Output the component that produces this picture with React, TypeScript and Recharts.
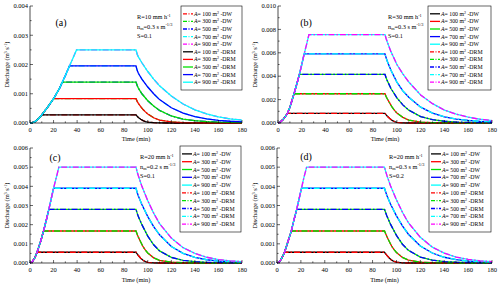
import { LineChart, Line, XAxis, YAxis } from "recharts";

type Pt = [number, number];

const FONT = "'Liberation Serif', 'Times New Roman', serif";
const DASH = "6 2 1.5 2";

const AREAS = [100, 300, 500, 700, 900];
const X_TICKS = [0, 10, 20, 30, 40, 50, 60, 70, 80, 90, 100, 110, 120, 130, 140, 150, 160, 170, 180];

// discharge values are in 10^-3 m3/s, tick labels are formatted back to m3/s
const Y_TICKS_A = [0, 0.5, 1, 1.5, 2, 2.5, 3, 3.5, 4];
const Y_TICKS_B = [0, 1, 2, 3, 4, 5, 6, 7, 8, 9, 10];
const Y_TICKS_CD = [0, 0.5, 1, 1.5, 2, 2.5, 3, 3.5, 4, 4.5, 5, 5.5, 6];

// solid / dash-dot colour orders (100..900 m2)
const SOLID = ["#000000", "#ff0000", "#00e000", "#0000ff", "#00ffff"];
const DASHED = ["#ff0000", "#00e000", "#0000ff", "#00ffff", "#ff00ff"];

// (a) R=10 mm/h, n=0.3, S=0.1
const a100: Pt[] = [[0, 0], [2, 0.01], [4, 0.04], [6, 0.1], [8, 0.18], [10, 0.28], [90, 0.28], [91, 0.23], [92, 0.19], [94, 0.13], [96, 0.08], [98, 0.05], [100, 0.03], [105, 0.01], [110, 0.003], [120, 0], [180, 0]];
const a300: Pt[] = [[0, 0], [2, 0.01], [4, 0.04], [6, 0.1], [8, 0.18], [10, 0.28], [15, 0.54], [20, 0.83], [90, 0.83], [91, 0.74], [92, 0.67], [94, 0.56], [96, 0.46], [98, 0.38], [100, 0.31], [105, 0.18], [110, 0.1], [120, 0.04], [130, 0.015], [140, 0.005], [150, 0], [180, 0]];
const a500: Pt[] = [[0, 0], [2, 0.01], [4, 0.04], [6, 0.1], [8, 0.18], [10, 0.28], [15, 0.54], [20, 0.83], [25, 1.18], [27.5, 1.4], [90, 1.4], [91, 1.28], [92, 1.19], [95, 1.0], [100, 0.76], [105, 0.58], [110, 0.43], [120, 0.24], [130, 0.13], [140, 0.08], [150, 0.05], [160, 0.03], [170, 0.02], [180, 0.01]];
const a700: Pt[] = [[0, 0], [2, 0.01], [4, 0.04], [6, 0.1], [8, 0.18], [10, 0.28], [15, 0.54], [20, 0.83], [25, 1.18], [27.5, 1.4], [30, 1.62], [33.5, 1.95], [90, 1.95], [91, 1.8], [92, 1.7], [95, 1.5], [100, 1.23], [105, 1.0], [110, 0.8], [120, 0.52], [130, 0.34], [140, 0.22], [150, 0.14], [160, 0.09], [170, 0.06], [180, 0.04]];
const a900: Pt[] = [[0, 0], [2, 0.01], [4, 0.04], [6, 0.1], [8, 0.18], [10, 0.28], [15, 0.54], [20, 0.83], [25, 1.18], [27.5, 1.4], [30, 1.62], [33.5, 1.95], [36, 2.17], [39.5, 2.5], [90, 2.5], [91, 2.35], [92, 2.26], [95, 2.06], [100, 1.76], [105, 1.5], [110, 1.27], [120, 0.92], [130, 0.65], [140, 0.45], [150, 0.31], [160, 0.21], [170, 0.14], [180, 0.1]];

// (b) R=30 mm/h, n=0.3, S=0.1
const b100: Pt[] = [[0, 0], [2, 0.08], [4, 0.27], [6, 0.52], [8, 0.83], [90, 0.83], [91, 0.7], [92, 0.58], [94, 0.38], [96, 0.22], [98, 0.12], [100, 0.06], [105, 0.015], [110, 0], [180, 0]];
const b300: Pt[] = [[0, 0], [2, 0.08], [4, 0.27], [6, 0.52], [8, 0.83], [10, 1.35], [13.5, 2.5], [90, 2.5], [91, 2.25], [92, 2.05], [94, 1.7], [96, 1.35], [98, 1.08], [100, 0.85], [105, 0.48], [110, 0.25], [120, 0.08], [130, 0.03], [140, 0.01], [150, 0], [180, 0]];
const b500: Pt[] = [[0, 0], [2, 0.08], [4, 0.27], [6, 0.52], [8, 0.83], [10, 1.35], [13.5, 2.5], [16, 3.4], [18, 4.15], [90, 4.15], [91, 3.85], [92, 3.6], [95, 2.95], [100, 2.15], [105, 1.55], [110, 1.1], [120, 0.55], [130, 0.28], [140, 0.15], [150, 0.08], [160, 0.05], [170, 0.03], [180, 0.02]];
const b700: Pt[] = [[0, 0], [2, 0.08], [4, 0.27], [6, 0.52], [8, 0.83], [10, 1.35], [13.5, 2.5], [16, 3.4], [18, 4.15], [20, 5.0], [22, 5.9], [90, 5.9], [91, 5.55], [92, 5.25], [95, 4.5], [100, 3.5], [105, 2.75], [110, 2.2], [120, 1.35], [130, 0.85], [140, 0.53], [150, 0.34], [160, 0.22], [170, 0.14], [180, 0.09]];
const b900: Pt[] = [[0, 0], [2, 0.08], [4, 0.27], [6, 0.52], [8, 0.83], [10, 1.35], [13.5, 2.5], [16, 3.4], [18, 4.15], [20, 5.0], [22, 5.9], [24, 6.7], [26, 7.55], [90, 7.55], [91, 7.2], [92, 6.9], [95, 6.1], [100, 5.0], [105, 4.2], [110, 3.5], [120, 2.4], [130, 1.65], [140, 1.1], [150, 0.75], [160, 0.5], [170, 0.32], [180, 0.21]];

// (c) R=20 mm/h, n=0.2, S=0.1
const c100: Pt[] = [[0, 0], [2, 0.07], [4, 0.26], [6, 0.56], [90, 0.56], [91, 0.47], [92, 0.39], [94, 0.25], [96, 0.14], [98, 0.07], [100, 0.035], [105, 0.008], [110, 0], [180, 0]];
const c300: Pt[] = [[0, 0], [2, 0.07], [4, 0.26], [6, 0.56], [9, 1.12], [11.5, 1.67], [90, 1.67], [91, 1.5], [92, 1.35], [94, 1.1], [96, 0.85], [98, 0.67], [100, 0.52], [105, 0.27], [110, 0.14], [120, 0.04], [130, 0.012], [140, 0], [180, 0]];
const c500: Pt[] = [[0, 0], [2, 0.07], [4, 0.26], [6, 0.56], [9, 1.12], [11.5, 1.67], [14, 2.28], [16, 2.8], [90, 2.8], [91, 2.6], [92, 2.42], [95, 2.0], [100, 1.4], [105, 0.95], [110, 0.63], [120, 0.29], [130, 0.14], [140, 0.07], [150, 0.035], [160, 0.02], [170, 0.01], [180, 0.005]];
const c700: Pt[] = [[0, 0], [2, 0.07], [4, 0.26], [6, 0.56], [9, 1.12], [11.5, 1.67], [14, 2.28], [16, 2.8], [18, 3.35], [20, 3.9], [90, 3.9], [91, 3.68], [92, 3.5], [95, 3.05], [100, 2.42], [105, 1.9], [110, 1.47], [120, 0.86], [130, 0.5], [140, 0.29], [150, 0.17], [160, 0.1], [170, 0.06], [180, 0.035]];
const c900: Pt[] = [[0, 0], [2, 0.07], [4, 0.26], [6, 0.56], [9, 1.12], [11.5, 1.67], [14, 2.28], [16, 2.8], [18, 3.35], [20, 3.9], [22.5, 4.5], [24.5, 5.0], [90, 5.0], [91, 4.75], [92, 4.55], [95, 4.0], [100, 3.25], [105, 2.6], [110, 2.05], [120, 1.3], [130, 0.8], [140, 0.5], [150, 0.3], [160, 0.18], [170, 0.11], [180, 0.07]];

// (d) R=20 mm/h, n=0.3, S=0.2
const d100: Pt[] = [[0, 0], [2, 0.06], [4, 0.25], [6.3, 0.56], [90, 0.56], [91, 0.48], [92, 0.4], [94, 0.26], [96, 0.15], [98, 0.08], [100, 0.04], [105, 0.01], [110, 0], [180, 0]];
const d300: Pt[] = [[0, 0], [2, 0.06], [4, 0.25], [6.3, 0.56], [9, 1.08], [12, 1.67], [90, 1.67], [91, 1.52], [92, 1.38], [94, 1.12], [96, 0.88], [98, 0.7], [100, 0.55], [105, 0.29], [110, 0.15], [120, 0.045], [130, 0.014], [140, 0], [180, 0]];
const d500: Pt[] = [[0, 0], [2, 0.06], [4, 0.25], [6.3, 0.56], [9, 1.08], [12, 1.67], [14, 2.2], [16.5, 2.8], [90, 2.8], [91, 2.62], [92, 2.45], [95, 2.03], [100, 1.44], [105, 0.98], [110, 0.66], [120, 0.31], [130, 0.15], [140, 0.075], [150, 0.038], [160, 0.02], [170, 0.01], [180, 0.005]];
const d700: Pt[] = [[0, 0], [2, 0.06], [4, 0.25], [6.3, 0.56], [9, 1.08], [12, 1.67], [14, 2.2], [16.5, 2.8], [18.5, 3.35], [20.5, 3.9], [90, 3.9], [91, 3.7], [92, 3.52], [95, 3.08], [100, 2.46], [105, 1.94], [110, 1.5], [120, 0.89], [130, 0.52], [140, 0.3], [150, 0.18], [160, 0.1], [170, 0.06], [180, 0.036]];
const d900: Pt[] = [[0, 0], [2, 0.06], [4, 0.25], [6.3, 0.56], [9, 1.08], [12, 1.67], [14, 2.2], [16.5, 2.8], [18.5, 3.35], [20.5, 3.9], [22.5, 4.45], [24.8, 5.0], [90, 5.0], [91, 4.77], [92, 4.57], [95, 4.03], [100, 3.3], [105, 2.65], [110, 2.1], [120, 1.34], [130, 0.83], [140, 0.52], [150, 0.31], [160, 0.19], [170, 0.115], [180, 0.072]];

interface PanelCfg {
  id: string;
  left: number;
  top: number;
  height: number;
  yAxisW: number;
  xAxisH: number;
  mTop: number;
  yMax: number;
  yTicks: number[];
  yMajor: number;
  series: Pt[][];
  dwDashed: boolean;
  yLabelDx: number;
  xLabelOffset: number;
  R: string;
  n: string;
  S: string;
  tag: [number, number];
  note: [number, number];
  legend: [number, number, number, number];
}

const PANELS: PanelCfg[] = [
  { id: "a", left: 0, top: 0, height: 142, yAxisW: 30, xAxisH: 19, mTop: 6, yMax: 4, yTicks: Y_TICKS_A, yMajor: 1, series: [a100, a300, a500, a700, a900], dwDashed: true, yLabelDx: 9, xLabelOffset: 1.5, R: "10", n: "0.3", S: "0.1", tag: [61, 26], note: [137, 19], legend: [181, 6, 61, 84] },
  { id: "b", left: 250, top: 0, height: 142, yAxisW: 28, xAxisH: 19, mTop: 6, yMax: 10, yTicks: Y_TICKS_B, yMajor: 2, series: [b100, b300, b500, b700, b900], dwDashed: false, yLabelDx: 7, xLabelOffset: 1.5, R: "30", n: "0.3", S: "0.1", tag: [306, 26], note: [388, 19], legend: [428, 6, 63, 84] },
  { id: "c", left: 0, top: 142, height: 143, yAxisW: 30, xAxisH: 22, mTop: 6, yMax: 6, yTicks: Y_TICKS_CD, yMajor: 1, series: [c100, c300, c500, c700, c900], dwDashed: false, yLabelDx: 9, xLabelOffset: 3, R: "20", n: "0.2", S: "0.1", tag: [55, 161], note: [140, 159], legend: [180, 146, 61, 86] },
  { id: "d", left: 250, top: 142, height: 143, yAxisW: 27, xAxisH: 22, mTop: 6, yMax: 6, yTicks: Y_TICKS_CD, yMajor: 1, series: [d100, d300, d500, d700, d900], dwDashed: false, yLabelDx: 7, xLabelOffset: 3, R: "20", n: "0.3", S: "0.2", tag: [306, 160], note: [389, 159], legend: [429, 146, 62, 86] },
];

const XTick = (props: any) => {
  const { x, y, payload } = props;
  const major = payload.value % 20 === 0;
  return (
    <g>
      <line x1={x} y1={y - 4} x2={x} y2={y - 4 - (major ? 3 : 1.6)} stroke="#000" strokeWidth={0.6} />
      {major && (
        <text x={x} y={y} dy="0.71em" textAnchor="middle" fontSize={6.5} fontFamily={FONT} fill="#000">
          {payload.value}
        </text>
      )}
    </g>
  );
};

const makeYTick = (majorStep: number) => (props: any) => {
  const { x, y, payload } = props;
  const major = Math.abs(payload.value / majorStep - Math.round(payload.value / majorStep)) < 1e-6;
  return (
    <g>
      <line x1={x + 2} y1={y} x2={x + 2 + (major ? 3 : 1.6)} y2={y} stroke="#000" strokeWidth={0.6} />
      {major && (
        <text x={x} y={y} dy="0.35em" textAnchor="end" fontSize={6.5} fontFamily={FONT} fill="#000">
          {(payload.value / 1000).toFixed(3)}
        </text>
      )}
    </g>
  );
};

const makeTopTick = (majorEvery: number) => (props: any) => {
  const { x, y, payload } = props;
  const major = payload.value % majorEvery === 0;
  return <line x1={x} y1={y} x2={x} y2={y + (major ? 3 : 1.6)} stroke="#000" strokeWidth={0.6} />;
};

const makeRightTick = (majorStep: number) => (props: any) => {
  const { x, y, payload } = props;
  const major = Math.abs(payload.value / majorStep - Math.round(payload.value / majorStep)) < 1e-6;
  return <line x1={x} y1={y} x2={x - (major ? 3 : 1.6)} y2={y} stroke="#000" strokeWidth={0.6} />;
};

function Panel({ p }: { p: PanelCfg }) {
  const dw = AREAS.map((a, i) => (
    <Line
      key={`dw${a}`}
      data={p.series[i].map(([t, q]) => ({ t, q }))}
      dataKey="q"
      type="linear"
      stroke={p.dwDashed ? DASHED[i] : SOLID[i]}
      strokeDasharray={p.dwDashed ? DASH : undefined}
      strokeWidth={1.3}
      dot={false}
      activeDot={false}
      isAnimationActive={false}
    />
  ));
  const drm = AREAS.map((a, i) => (
    <Line
      key={`drm${a}`}
      data={p.series[i].map(([t, q]) => ({ t, q }))}
      dataKey="q"
      type="linear"
      stroke={p.dwDashed ? SOLID[i] : DASHED[i]}
      strokeDasharray={p.dwDashed ? undefined : DASH}
      strokeWidth={1.3}
      dot={false}
      activeDot={false}
      isAnimationActive={false}
    />
  ));
  return (
    <div style={{ position: "absolute", left: p.left, top: p.top }}>
      <LineChart width={250} height={p.height} margin={{ top: p.mTop, right: 8, left: 0, bottom: 0 }}>
        <XAxis
          type="number"
          dataKey="t"
          domain={[0, 180]}
          ticks={X_TICKS}
          interval={0}
          tickSize={0}
          tickMargin={4}
          tick={XTick}
          height={p.xAxisH}
          stroke="#000"
          strokeWidth={0.7}
          label={{ value: "Time (min)", position: "insideBottom", offset: p.xLabelOffset, fontSize: 6.3, fill: "#000", fontFamily: FONT }}
        />
        <XAxis
          xAxisId="top"
          orientation="top"
          type="number"
          domain={[0, 180]}
          ticks={X_TICKS}
          interval={0}
          tickSize={0}
          tickMargin={0}
          tick={makeTopTick(20)}
          height={0}
          stroke="#000"
          strokeWidth={0.7}
        />
        <YAxis
          type="number"
          domain={[0, p.yMax]}
          ticks={p.yTicks}
          interval={0}
          tickSize={0}
          tickMargin={2}
          tick={makeYTick(p.yMajor)}
          width={p.yAxisW}
          stroke="#000"
          strokeWidth={0.7}
          label={{
            content: ({ viewBox }: any) => {
              const cx = viewBox.x + p.yLabelDx;
              const cy = viewBox.y + viewBox.height / 2;
              return (
                <text x={cx} y={cy} transform={`rotate(-90 ${cx} ${cy})`} textAnchor="middle" fontSize={6.3} fontFamily={FONT} fill="#000">
                  Discharge (m<tspan dy={-2} fontSize={4.3}>3</tspan>
                  <tspan dy={2}> s</tspan>
                  <tspan dy={-2} fontSize={4.3}>-1</tspan>
                  <tspan dy={2}>)</tspan>
                </text>
              );
            },
          }}
        />
        <YAxis
          yAxisId="right"
          orientation="right"
          type="number"
          domain={[0, p.yMax]}
          ticks={p.yTicks}
          interval={0}
          tickSize={0}
          tickMargin={0}
          tick={makeRightTick(p.yMajor)}
          width={0}
          stroke="#000"
          strokeWidth={0.7}
        />
        {dw}
        {drm}
      </LineChart>
    </div>
  );
}

function LegendBox({ p }: { p: PanelCfg }) {
  const [x, y, w, h] = p.legend;
  const rows = [
    ...AREAS.map((a, i) => ({ a, kind: "DW", color: p.dwDashed ? DASHED[i] : SOLID[i], dashed: p.dwDashed })),
    ...AREAS.map((a, i) => ({ a, kind: "DRM", color: p.dwDashed ? SOLID[i] : DASHED[i], dashed: !p.dwDashed })),
  ];
  const step = (h - 8) / 10;
  return (
    <g>
      <rect x={x} y={y} width={w} height={h} fill="#fff" stroke="#000" strokeWidth={0.6} />
      {rows.map((r, i) => {
        const ry = y + 4 + step * (i + 0.5);
        return (
          <g key={i}>
            <line x1={x + 2} x2={x + 12} y1={ry} y2={ry} stroke={r.color} strokeWidth={1.3} strokeDasharray={r.dashed ? "4 1.5 1 1.5" : undefined} />
            <text x={x + 13} y={ry + 2} fontSize={5.8} fontFamily={FONT} fill="#000">
              <tspan fontStyle="italic">A</tspan>= {r.a} m<tspan dy={-2} fontSize={4}>2</tspan>
              <tspan dy={2}> -{r.kind}</tspan>
            </text>
          </g>
        );
      })}
    </g>
  );
}

function Notes({ p }: { p: PanelCfg }) {
  const [nx, ny] = p.note;
  return (
    <g fontFamily={FONT} fill="#000">
      <text x={p.tag[0]} y={p.tag[1]} textAnchor="middle" fontSize={10}>
        ({p.id})
      </text>
      <text x={nx} y={ny} fontSize={6.3}>
        R={p.R} mm h<tspan dy={-2.3} fontSize={4.3}>-1</tspan>
      </text>
      <text x={nx} y={ny + 9.5} fontSize={6.3}>
        n<tspan dy={1.5} fontSize={4.3}>m</tspan>
        <tspan dy={-1.5}>={p.n} s m</tspan>
        <tspan dy={-2.3} fontSize={4.3}>-1/3</tspan>
      </text>
      <text x={nx} y={ny + 19} fontSize={6.3}>
        S={p.S}
      </text>
    </g>
  );
}

export default function App() {
  return (
    <div style={{ position: "absolute", left: 0, top: 0, width: 500, height: 285, background: "#fff", overflow: "hidden" }}>
      {PANELS.map((p) => (
        <Panel key={p.id} p={p} />
      ))}
      <svg width={500} height={285} style={{ position: "absolute", left: 0, top: 0, pointerEvents: "none" }}>
        {PANELS.map((p) => (
          <g key={p.id}>
            <Notes p={p} />
            <LegendBox p={p} />
          </g>
        ))}
      </svg>
    </div>
  );
}
